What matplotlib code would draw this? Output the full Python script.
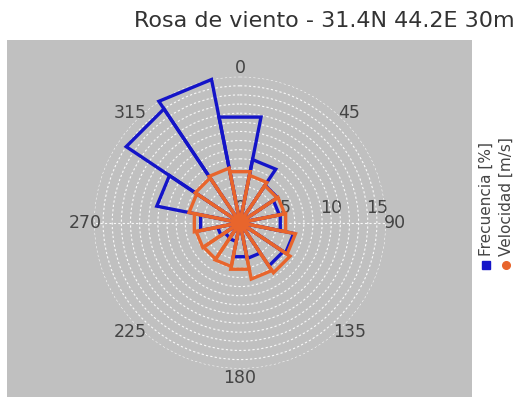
import numpy as np
import matplotlib
matplotlib.use("Agg")
import matplotlib.pyplot as plt
from matplotlib.patches import Rectangle
from matplotlib.lines import Line2D
from matplotlib.transforms import offset_copy

# ---- data ----
directions = [0, 22.5, 45, 67.5, 90, 112.5, 135, 157.5,
              180, 202.5, 225, 247.5, 270, 292.5, 315, 337.5]
frequency = [11.8, 7.05, 4.95, 4.4, 4.5, 6.0, 5.7, 4.0,
             3.8, 2.1, 2.0, 2.5, 4.4, 9.3, 15.0, 16.0]
velocity = [5.7, 5.3, 4.9, 5.0, 5.1, 6.2, 6.6, 6.3,
            5.2, 4.9, 4.8, 4.9, 5.1, 5.7, 5.9, 6.1]
angle_labels = [0, 45, 90, 135, 180, 225, 270, 315]
radial_labels = [0, 5, 10, 15]
title = "Rosa de viento - 31.4N 44.2E 30m"
legend_labels = ["Frecuencia [%]", "Velocidad [m/s]"]

BLUE = "#1414C8"
ORANGE = "#E8652C"
GRAY = "#C0C0C0"
TXT = "#444444"

W, H = 520, 404
fig = plt.figure(figsize=(W / 100, H / 100), dpi=100)

# gray panel
fig.patches.append(Rectangle((7 / W, 1 - 397 / H), 465 / W, 357 / H,
                             transform=fig.transFigure, facecolor=GRAY,
                             edgecolor="none", zorder=-10))

cx, cy, R = 240, H - 222.7, 146
ax = fig.add_axes([(cx - R) / W, (cy - R) / H, 2 * R / W, 2 * R / H],
                  projection="polar")
ax.set_zorder(5)
ax.set_facecolor("none")
ax.set_theta_zero_location("N")
ax.set_theta_direction(-1)
rmax = 16
ax.set_ylim(0, rmax)
ax.spines["polar"].set_visible(False)

ax.set_yticks(np.arange(1, rmax + 1))
ax.set_yticklabels([])
ax.set_xticks(np.deg2rad([90, 270]))
ax.set_xticklabels([])
ax.tick_params(length=0)
ax.yaxis.grid(True, color="white", linestyle=(0, (2, 2)), linewidth=0.8, alpha=0.9)
ax.xaxis.grid(True, color="white", linestyle=(0, (2, 2)), linewidth=0.8, alpha=0.9)

# angle labels
for a in angle_labels:
    ax.text(np.deg2rad(a), rmax * 155 / 146, str(a), ha="center", va="center",
            fontsize=12.5, color=TXT)

# radial labels
tr = offset_copy(ax.transData, fig=fig, x=0, y=10.8, units="points")
for r in radial_labels:
    ax.text(np.deg2rad(90), r, str(r), ha="center", va="center",
            fontsize=12.5, color=TXT, transform=tr, zorder=1)

width = 22.5

def sector(theta_deg, r, color):
    t = np.deg2rad(theta_deg)
    hw = np.deg2rad(width / 2)
    ax.plot([0, t - hw, t + hw, 0], [0, r, r, 0], color=color, lw=2.4,
            solid_joinstyle="miter", zorder=3, clip_on=False)

for d, f in zip(directions, frequency):
    sector(d, f, BLUE)
for d, v in zip(directions, velocity):
    sector(d, v, ORANGE)

# title
fig.text(515 / W, 1 - 27 / H, title, ha="right", va="baseline",
         fontsize=16, color="#333333")

# legend (vertical)
fig.add_artist(Line2D([486 / W], [1 - 265 / H], marker="s", markersize=5.5,
                      color=BLUE, linestyle="none", transform=fig.transFigure))
fig.add_artist(Line2D([506 / W], [1 - 265 / H], marker="o", markersize=5.5,
                      color=ORANGE, linestyle="none", transform=fig.transFigure))
fig.text(486 / W, 1 - 256 / H, legend_labels[0], rotation=90, ha="center",
         va="bottom", fontsize=11, color=TXT)
fig.text(506 / W, 1 - 256 / H, legend_labels[1], rotation=90, ha="center",
         va="bottom", fontsize=11, color=TXT)

fig.savefig("out.png", dpi=100)
